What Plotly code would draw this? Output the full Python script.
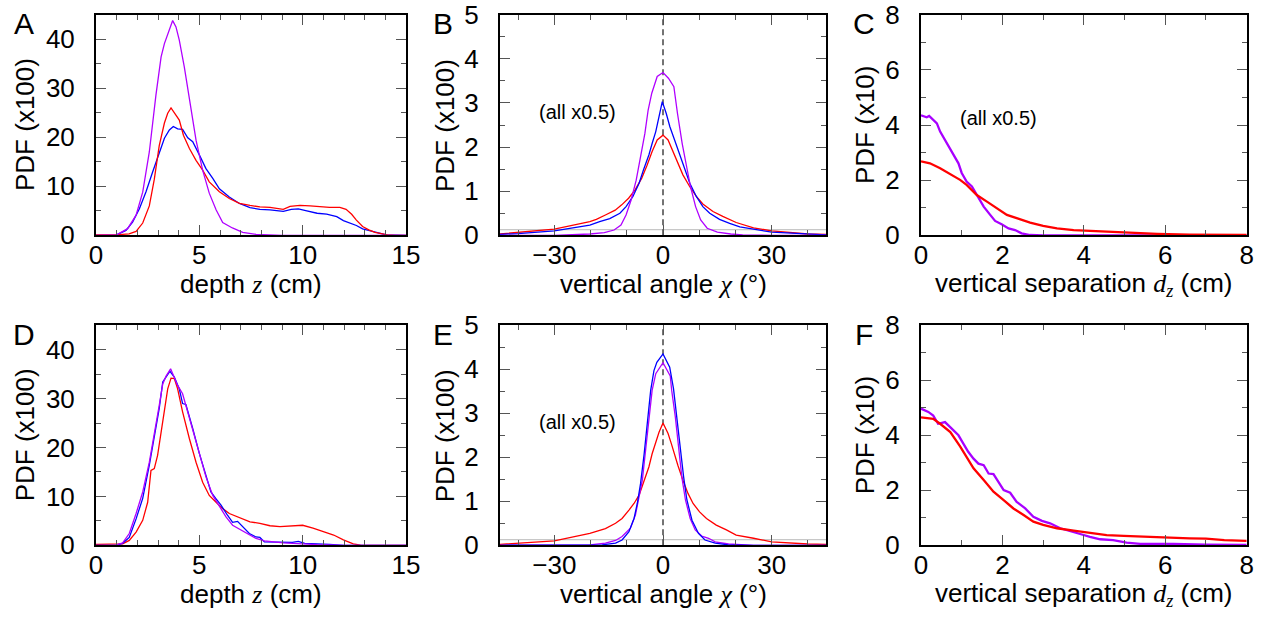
import plotly.graph_objects as go

# ---------------- data ----------------
# Panel A: depth z (cm) vs PDF (x100)
A_mag_x = [0, 1.0, 1.53, 1.94, 2.26, 2.58, 2.9, 3.15, 3.31, 3.52, 3.71, 3.87, 4.03, 4.27, 4.52, 4.84, 5.16, 5.48, 5.81, 6.13, 6.6, 7.1, 7.74, 9, 15]
A_mag_y = [0, 0.1, 1.35, 4.1, 8.8, 17, 28.6, 36.4, 39.1, 41.8, 43.8, 42.5, 39.8, 34.4, 28.2, 19.4, 13.3, 8.6, 5.2, 2.6, 1.5, 0.6, 0.2, 0, 0]
A_blu_x = [0, 0.97, 1.45, 1.77, 2.1, 2.42, 2.74, 3.06, 3.31, 3.55, 3.74, 3.95, 4.19, 4.44, 4.68, 5.0, 5.32, 5.65, 5.97, 6.45, 6.94, 7.45, 7.93, 8.42, 8.9, 9.06, 9.45, 9.79, 10.2, 10.7, 11.16, 11.65, 11.97, 12.3, 12.6, 12.9, 13.4, 13.9, 14.05, 15]
A_blu_y = [0, 0.05, 1.0, 2.7, 5.4, 8.9, 12.9, 17, 19.8, 21.5, 22.2, 21.7, 21.6, 19.9, 19.1, 16.4, 13.6, 11.6, 9.5, 7.8, 6.5, 5.65, 5.3, 5.2, 5.0, 4.9, 5.3, 5.4, 5.0, 4.5, 4.3, 3.8, 3.0, 2.5, 2.0, 1.3, 0.8, 0.3, 0.1, 0]
A_red_x = [0, 0.97, 1.6, 1.94, 2.26, 2.58, 2.82, 3.06, 3.31, 3.47, 3.63, 3.79, 4.03, 4.23, 4.52, 4.84, 5.16, 5.48, 5.97, 6.45, 6.94, 7.45, 7.93, 8.42, 8.9, 9.06, 9.39, 9.87, 10.36, 10.84, 11.3, 11.8, 12.1, 12.37, 12.6, 12.9, 13.2, 13.5, 13.8, 14.1, 14.5, 15]
A_red_y = [0.1, 0.1, 0.3, 0.8, 2.5, 6.0, 11.4, 18.3, 22.9, 24.9, 26.0, 24.9, 23.5, 20.4, 17.7, 15.3, 13.3, 10.9, 8.9, 7.5, 6.5, 6.1, 5.8, 5.7, 5.5, 5.3, 5.9, 6.1, 6.0, 5.8, 5.7, 5.7, 5.3, 4.3, 3.1, 1.8, 1.1, 0.6, 0.3, 0.1, 0, 0]

# Panel D
D_mag_x = [0, 0.97, 1.29, 1.61, 1.94, 2.26, 2.58, 2.82, 3.06, 3.23, 3.39, 3.61, 3.79, 3.95, 4.19, 4.35, 4.68, 5.0, 5.32, 5.65, 5.97, 6.29, 6.61, 6.94, 7.26, 7.74, 8.15, 9.06, 10.7, 12, 15]
D_mag_y = [0, 0.05, 0.5, 2.4, 6.5, 10.9, 17, 22.5, 28.6, 33, 34.6, 36.1, 34.4, 32.7, 31, 28.6, 23.2, 18.4, 14, 10.2, 7.9, 5.8, 4.1, 3.3, 2.4, 1.4, 0.9, 0.5, 0.15, 0, 0]
D_blu_x = [0, 0.97, 1.29, 1.61, 1.94, 2.26, 2.58, 2.82, 3.06, 3.23, 3.47, 3.58, 3.79, 4.03, 4.19, 4.35, 4.68, 5.0, 5.32, 5.56, 5.81, 6.05, 6.37, 6.61, 6.85, 7.1, 7.42, 7.74, 7.93, 8.15, 8.9, 9.5, 9.79, 10.1, 11.3, 12, 15]
D_blu_y = [0, 0.05, 0.4, 1.6, 5.4, 9.6, 16.4, 21.8, 28, 33.4, 35.1, 35.6, 34.4, 32.0, 29, 28.8, 23.9, 18.8, 14.3, 10.9, 9.5, 8.2, 6.1, 4.7, 4.9, 3.8, 2.4, 1.7, 1.6, 0.7, 0.7, 0.6, 0.8, 0.4, 0.2, 0, 0]
D_red_x = [0, 0.97, 1.29, 1.61, 1.94, 2.26, 2.5, 2.66, 2.82, 2.98, 3.23, 3.47, 3.63, 3.79, 3.95, 4.19, 4.52, 4.84, 5.16, 5.48, 5.81, 6.13, 6.45, 6.94, 7.45, 7.93, 8.42, 8.9, 9.39, 10.0, 10.5, 11.0, 11.5, 11.97, 12.45, 12.8, 15]
D_red_y = [0.2, 0.2, 0.3, 1.0, 2.7, 5.1, 8.8, 15.3, 15.7, 18.4, 25.2, 32.0, 34.2, 34.1, 32, 27.3, 21.8, 17, 12.9, 10.2, 8.8, 7.5, 6.5, 5.6, 4.8, 4.5, 4.0, 3.8, 4.0, 4.1, 3.5, 2.8, 2.1, 1.1, 0.3, 0.05, 0]

# Panel B: vertical angle chi (deg)
B_mag_x = [-45, -30, -20.2, -16.2, -13.5, -11.6, -10.2, -8.8, -7.4, -5.9, -5.0, -4.1, -3.1, -1.6, 0, 1.5, 3.0, 4.0, 5.3, 6.7, 7.6, 9.0, 10.4, 12.2, 15.0, 18.7, 22, 30, 45]
B_mag_y = [0, 0, 0.03, 0.06, 0.12, 0.23, 0.46, 0.80, 1.25, 1.86, 2.31, 2.84, 3.22, 3.60, 3.69, 3.56, 3.37, 2.76, 2.08, 1.48, 1.10, 0.65, 0.35, 0.16, 0.07, 0.03, 0.01, 0, 0]
B_blu_x = [-45, -40, -30, -20.2, -17.5, -14.7, -11.9, -10.2, -8.3, -6.6, -5.4, -3.9, -3.0, -2.0, -1.1, -0.2, 0.9, 1.9, 3.2, 4.6, 6.0, 7.4, 9.2, 11.0, 12.9, 15.6, 18.4, 21.2, 30, 40, 45]
B_blu_y = [0.02, 0.04, 0.1, 0.23, 0.31, 0.38, 0.50, 0.65, 0.88, 1.18, 1.48, 1.82, 2.08, 2.35, 2.69, 3.03, 2.76, 2.46, 2.16, 1.82, 1.48, 1.18, 0.88, 0.65, 0.50, 0.36, 0.27, 0.19, 0.07, 0.02, 0.01]
B_red_x = [-45, -40, -30, -20.2, -18.4, -15.9, -13.2, -11.4, -9.5, -7.7, -5.9, -4.4, -3.0, -1.6, 0, 1.4, 2.8, 4.1, 5.5, 7.4, 9.2, 11.0, 13.8, 16.5, 20.2, 25, 30, 40, 45]
B_red_y = [0.03, 0.07, 0.14, 0.31, 0.36, 0.46, 0.57, 0.69, 0.84, 1.03, 1.29, 1.59, 1.90, 2.16, 2.27, 2.16, 1.90, 1.63, 1.37, 1.10, 0.88, 0.71, 0.54, 0.43, 0.29, 0.17, 0.1, 0.03, 0.02]

# Panel E
E_mag_x = [-45, -20.2, -15.9, -13.1, -11.3, -9.0, -7.6, -6.7, -5.7, -4.8, -3.9, -3.0, -2.0, 0, 2.0, 2.4, 3.4, 4.3, 5.2, 6.2, 7.5, 8.9, 10.7, 12.6, 14.4, 18.1, 25, 45]
E_mag_y = [0, 0.01, 0.05, 0.11, 0.20, 0.39, 0.69, 1.03, 1.48, 2.16, 2.84, 3.52, 3.9, 4.15, 3.85, 3.52, 2.92, 2.23, 1.55, 1.03, 0.61, 0.35, 0.21, 0.16, 0.08, 0.03, 0, 0]
E_blu_x = [-45, -20, -16.8, -13.1, -11.3, -9.4, -8.0, -7.1, -6.2, -5.2, -4.3, -3.4, -2.5, -1.7, 0, 1.85, 2.9, 3.8, 4.7, 5.7, 6.6, 8.0, 9.8, 11.6, 14.4, 18, 25, 45]
E_blu_y = [0, 0, 0.01, 0.05, 0.12, 0.31, 0.61, 0.95, 1.40, 2.08, 2.84, 3.52, 3.97, 4.16, 4.35, 4.05, 3.56, 2.92, 2.23, 1.55, 1.03, 0.57, 0.27, 0.12, 0.05, 0.01, 0, 0]
E_red_x = [-45, -40, -30, -20.2, -18.7, -15.9, -13.1, -11.3, -9.4, -8.0, -6.6, -5.4, -3.9, -3.0, -2.0, -1.1, 0, 1.4, 2.3, 3.2, 4.1, 5.5, 6.9, 8.3, 10.1, 12.0, 14.7, 17.5, 20.2, 25, 30, 40, 45]
E_red_y = [0.02, 0.05, 0.1, 0.27, 0.31, 0.38, 0.50, 0.61, 0.80, 0.95, 1.14, 1.44, 1.78, 2.08, 2.35, 2.57, 2.78, 2.54, 2.31, 2.05, 1.82, 1.48, 1.18, 0.95, 0.76, 0.61, 0.46, 0.35, 0.23, 0.16, 0.08, 0.03, 0.02]

# Panel C: vertical separation d_z (cm) vs PDF (x10)
C_mag_x = [0.0, 0.14, 0.2, 0.39, 0.47, 0.63, 0.8, 0.92, 1.0, 1.12, 1.25, 1.37, 1.54, 1.7, 1.82, 1.98, 2.15, 2.31, 2.47, 2.68, 3.0, 8.0]
C_mag_y = [4.35, 4.28, 4.33, 4.06, 3.76, 3.34, 2.91, 2.61, 2.26, 1.95, 1.77, 1.46, 1.04, 0.74, 0.52, 0.40, 0.25, 0.19, 0.07, 0.01, 0, 0]
C_red_x = [0.0, 0.22, 0.47, 0.72, 0.96, 1.12, 1.37, 1.62, 1.86, 2.11, 2.35, 2.68, 3.0, 3.34, 3.75, 4.24, 4.98, 5.8, 6.6, 8.0]
C_red_y = [2.68, 2.61, 2.43, 2.22, 2.01, 1.83, 1.46, 1.22, 0.98, 0.74, 0.62, 0.46, 0.34, 0.25, 0.19, 0.15, 0.10, 0.05, 0.02, 0.01]

# Panel F
F_mag_x = [0.0, 0.18, 0.3, 0.42, 0.59, 0.75, 0.92, 1.04, 1.16, 1.29, 1.41, 1.54, 1.66, 1.78, 1.9, 2.03, 2.19, 2.35, 2.56, 2.76, 2.97, 3.17, 3.42, 3.66, 3.91, 4.15, 4.4, 4.72, 5.05, 5.38, 6.2, 7.0, 8.0]
F_mag_y = [4.97, 4.85, 4.72, 4.42, 4.48, 4.24, 4.0, 3.7, 3.4, 3.15, 2.97, 2.91, 2.61, 2.59, 2.31, 2.01, 1.91, 1.58, 1.34, 1.04, 0.89, 0.8, 0.62, 0.53, 0.41, 0.31, 0.22, 0.19, 0.10, 0.05, 0.05, 0.02, 0.01]
F_red_x = [0.0, 0.3, 0.47, 0.72, 0.96, 1.12, 1.29, 1.54, 1.78, 2.03, 2.27, 2.52, 2.76, 3.0, 3.34, 3.75, 4.15, 4.56, 4.98, 5.4, 5.8, 6.2, 6.6, 7.0, 7.45, 8.0]
F_red_y = [4.65, 4.60, 4.42, 4.12, 3.6, 3.2, 2.8, 2.37, 1.95, 1.64, 1.34, 1.10, 0.86, 0.74, 0.62, 0.53, 0.46, 0.37, 0.34, 0.31, 0.29, 0.28, 0.25, 0.24, 0.19, 0.16]

# uniform reference level (panels B, E) and tick labels
baseline_level = 0.13
angle_labels = ["\u221230", "0", "30"]

# ---------------- styling ----------------
W, H = 1267, 620
FONT = "Liberation Sans, Arial, sans-serif"
SERIF = "Liberation Serif, Times New Roman, serif"
MAG, BLU, RED = "#b000ff", "#0000ff", "#ff0000"
MAG2 = "#a800ff"
TICKC = "#555555"
TFS = 26   # tick font size
AFS = 26   # axis title size

# panel frames in pixels
cols_px = [(96, 406), (500, 826), (921, 1246.7)]
rows_px = [(14.7, 235.3), (325.3, 545.3)]

fig = go.Figure()

panels = [
    (0, 0, [(A_blu_x, A_blu_y, BLU, 1.3), (A_red_x, A_red_y, RED, 1.3), (A_mag_x, A_mag_y, MAG, 1.3)], "A"),
    (0, 1, [(B_red_x, B_red_y, RED, 1.3), (B_blu_x, B_blu_y, BLU, 1.3), (B_mag_x, B_mag_y, MAG, 1.3)], "B"),
    (0, 2, [(C_mag_x, C_mag_y, MAG2, 2.3), (C_red_x, C_red_y, RED, 2.3)], "C"),
    (1, 0, [(D_red_x, D_red_y, RED, 1.3), (D_blu_x, D_blu_y, BLU, 1.3), (D_mag_x, D_mag_y, MAG, 1.3)], "D"),
    (1, 1, [(E_red_x, E_red_y, RED, 1.3), (E_mag_x, E_mag_y, MAG, 1.3), (E_blu_x, E_blu_y, BLU, 1.3)], "E"),
    (1, 2, [(F_mag_x, F_mag_y, MAG2, 2.3), (F_red_x, F_red_y, RED, 2.3)], "F"),
]

def zt(s):
    return f"<span style=\"font-family:{SERIF}\"><i>{s}</i></span>"

xtitles = ["depth " + zt("z") + " (cm)",
           "vertical angle " + zt("\u03c7") + " (\u00b0)",
           "vertical separation " + zt("d") + "<sub>" + zt("z") + "</sub> (cm)"]
ytitles = ["PDF (x100)", "PDF (x100)", "PDF (x10)"]
ytitle_off = [71, 55, 56]

tick_common = dict(showline=True, linecolor="black", linewidth=2, mirror="ticks",
                   ticks="inside", tickcolor=TICKC, tickwidth=1.3, ticklen=10,
                   showgrid=False, zeroline=False, fixedrange=True, automargin=False,
                   ticklabeloverflow="allow",
                   tickfont=dict(family=FONT, size=TFS, color="black"))

def minor(vals):
    return dict(tickvals=vals, ticks="inside", ticklen=5, tickcolor=TICKC, tickwidth=1.3)

def axis_specs(col):
    if col == 0:
        x = dict(range=[0, 15], tickvals=[0, 5, 10, 15], ticktext=["0", "5", "10", "15"],
                 minor=minor([v for v in range(16) if v % 5]))
        y = dict(range=[0, 45], tickvals=[0, 10, 20, 30, 40], ticktext=["0", "10", "20", "30", "40"],
                 minor=minor([5, 15, 25, 35, 45]))
    elif col == 1:
        x = dict(range=[-45, 45], tickvals=[-30, 0, 30], ticktext=angle_labels,
                 minor=minor([-40, -20, -10, 10, 20, 40]))
        y = dict(range=[0, 5], tickvals=[0, 1, 2, 3, 4, 5], ticktext=["0", "1", "2", "3", "4", "5"],
                 minor=minor([0.5, 1.5, 2.5, 3.5, 4.5]))
    else:
        x = dict(range=[0, 8], tickvals=[0, 2, 4, 6, 8], ticktext=["0", "2", "4", "6", "8"],
                 minor=minor([1, 3, 5, 7]))
        y = dict(range=[0, 8], tickvals=[0, 2, 4, 6, 8], ticktext=["0", "2", "4", "6", "8"],
                 minor=minor([1, 3, 5, 7]))
    return x, y

annotations = []
layout_axes = {}
for i, (r, c, traces, letter) in enumerate(panels):
    n = i + 1
    xa = "x" if n == 1 else f"x{n}"
    ya = "y" if n == 1 else f"y{n}"
    x0, x1 = cols_px[c]
    t0, t1 = rows_px[r]
    xs, ys = axis_specs(c)
    layout_axes["xaxis" if n == 1 else f"xaxis{n}"] = dict(
        domain=[x0 / W, x1 / W], anchor=ya, ticklabelstandoff=-5, **xs, **tick_common)
    layout_axes["yaxis" if n == 1 else f"yaxis{n}"] = dict(
        domain=[1 - t1 / H, 1 - t0 / H], anchor=xa, ticklabelstandoff=14, **ys, **tick_common)

    if c == 1:
        fig.add_trace(go.Scatter(x=[-45, 45], y=[baseline_level, baseline_level], mode="lines",
                                 line=dict(color="#c8c8c8", width=1.2), xaxis=xa, yaxis=ya,
                                 showlegend=False, hoverinfo="skip"))
        fig.add_trace(go.Scatter(x=[0, 0], y=[0, 5], mode="lines",
                                 line=dict(color="#444444", width=1.5, dash="6px,4px"),
                                 xaxis=xa, yaxis=ya, showlegend=False, hoverinfo="skip"))
    for (tx, ty, colr, lw) in traces:
        fig.add_trace(go.Scatter(x=tx, y=ty, mode="lines", line=dict(color=colr, width=lw),
                                 xaxis=xa, yaxis=ya, showlegend=False))

    pw, ph = x1 - x0, t1 - t0
    annotations.append(dict(text=xtitles[c], xref=f"{xa} domain", yref=f"{ya} domain",
                            x=0.5, y=-49 / ph, xanchor="center", yanchor="middle",
                            showarrow=False, font=dict(family=FONT, size=AFS, color="black")))
    annotations.append(dict(text=ytitles[c], xref=f"{xa} domain", yref=f"{ya} domain",
                            x=-ytitle_off[c] / pw, y=0.5, xanchor="center", yanchor="middle",
                            textangle=-90, showarrow=False,
                            font=dict(family=FONT, size=AFS, color="black")))
    letter_x = [23.5, 443, 864][c]
    letter_y = [24, 334][r]
    annotations.append(dict(text=letter, xref="paper", yref="paper", x=letter_x / W,
                            y=1 - letter_y / H, xanchor="center", yanchor="middle",
                            showarrow=False, font=dict(family=FONT, size=30, color="black")))

for xa, ya, xv, yv in [("x2", "y2", -23.5, 2.8), ("x5", "y5", -23.5, 2.8), ("x3", "y3", 1.9, 4.24)]:
    annotations.append(dict(text="(all x0.5)", xref=xa, yref=ya, x=xv, y=yv,
                            xanchor="center", yanchor="middle", showarrow=False,
                            font=dict(family=FONT, size=20, color="black")))

fig.update_layout(width=W, height=H, margin=dict(l=0, r=0, t=0, b=0, autoexpand=False),
                  paper_bgcolor="white", plot_bgcolor="white", showlegend=False,
                  annotations=annotations, **layout_axes)

# remove the page's default body margin so the figure sits at the window origin
fig.write_html("out.html", config={"displayModeBar": False},
               post_script="document.body.style.margin='0px';document.body.style.overflow='hidden';")
